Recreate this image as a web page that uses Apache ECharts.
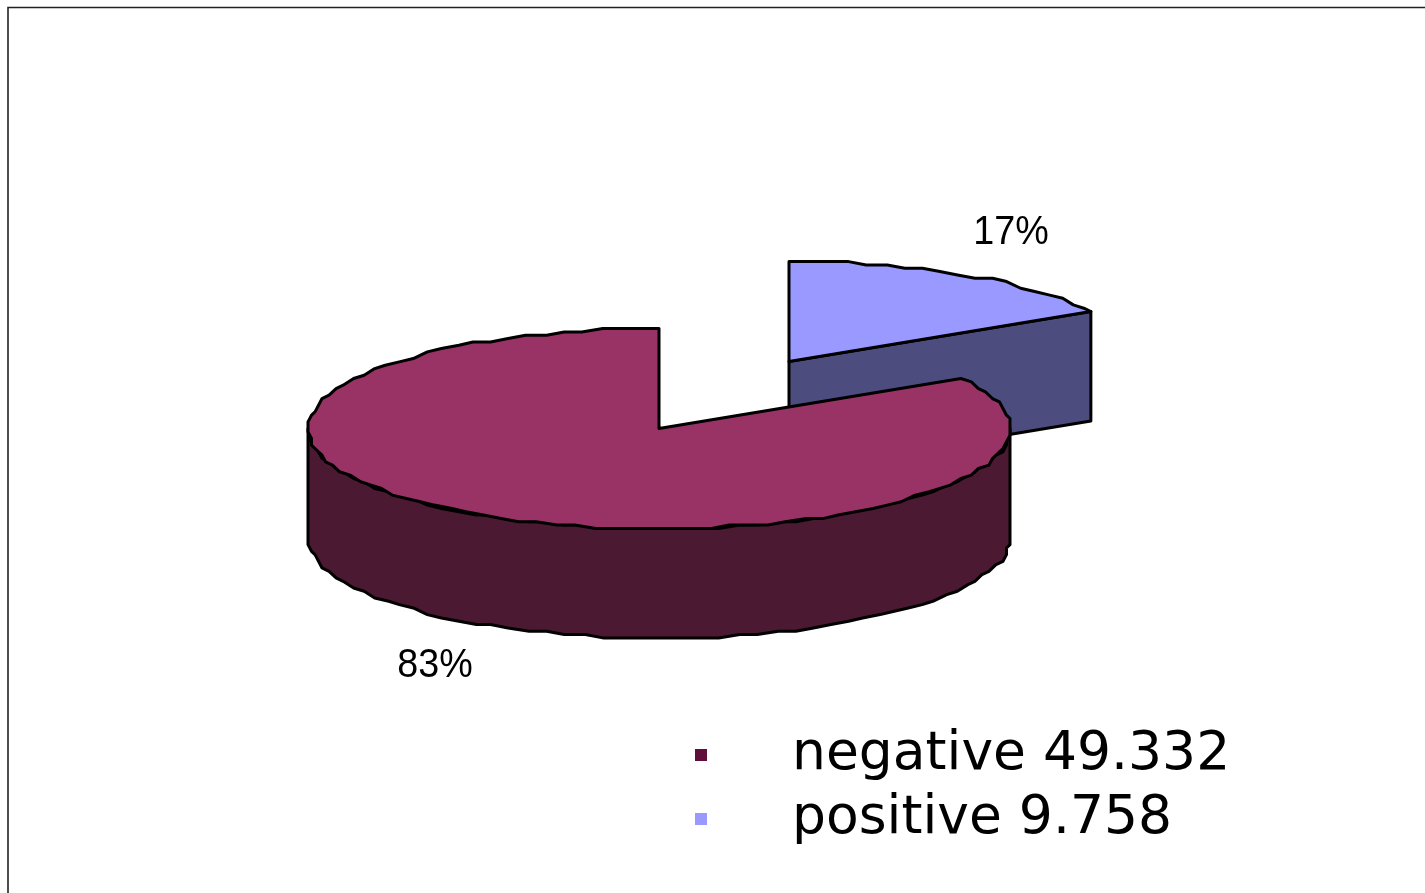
<!DOCTYPE html>
<html><head><meta charset="utf-8">
<style>html,body{margin:0;padding:0;background:#fff}#c{width:1425px;height:893px}</style>
<script src="https://cdn.jsdelivr.net/npm/echarts@6/dist/echarts.min.js"></script>
</head><body><div id="c"></div>
<script>
var categories = ['negative', 'positive'];
var seriesValues = [49332, 9758];
var valueLabels = ['49.332', '9.758'];

var topColors = ['#993366', '#9999FF'];
var sideColors = ['#4C1933', '#4C4C7F'];
var legendColors = ['#5F0F3A', '#9999FF'];
var centers = [[659, 428.5], [789, 361.5]];
var labelPos = [[435, 666], [1011, 233]];
var RX = 351, RY = 100, DEPTH = 109.5, GX = 3.51, GY = 3.33, STEP = 3.2;

var total = seriesValues.reduce(function (a, b) { return a + b; }, 0);
var startFrac = [seriesValues[1] / total, 0];
var chart = echarts.init(document.getElementById('c'), null, {renderer: 'canvas'});

function rimPoint(c, deg, dy) {
  var r = deg * Math.PI / 180;
  var x = RX * Math.sin(r), y = -RY * Math.cos(r);
  return [c[0] + Math.round(x / GX) * GX, c[1] + Math.round(y / GY) * GY + (dy || 0)];
}
function rim(c, a0, a1, dy) {
  var pts = [], a;
  for (a = a0; a < a1; a += STEP) pts.push(rimPoint(c, a, dy));
  pts.push(rimPoint(c, a1, dy));
  return pts;
}
var lineStyle = {stroke: '#000', lineWidth: 3, lineJoin: 'round'};
function poly(points, fill) {
  return {type: 'polygon', shape: {points: points}, style: Object.assign({fill: fill}, lineStyle)};
}
function pieceRenderer(i) {
  return function () {
    var c = centers[i], a0 = startFrac[i] * 360, a1 = a0 + seriesValues[i] / total * 360;
    var children = [];
    if (i === 0) {
      var top = rim(c, 90, 270, 0), bottom = rim(c, 90, 270, DEPTH).reverse();
      children.push(poly(top.concat(bottom), sideColors[i]));
    } else {
      var p = rimPoint(c, a1, 0);
      children.push(poly([c, p, [p[0], p[1] + DEPTH], [c[0], c[1] + DEPTH]], sideColors[i]));
    }
    children.push(poly([c].concat(rim(c, a0, a1, 0)), topColors[i]));
    children.push({
      type: 'text', x: labelPos[i][0], y: labelPos[i][1], scaleX: 0.92, originX: 0,
      style: {text: Math.round(seriesValues[i] / total * 100) + '%', align: 'center', verticalAlign: 'middle',
        fontFamily: '"Liberation Sans"', fontSize: 41, fill: '#000'}
    });
    return {type: 'group', children: children};
  };
}
var names = categories.map(function (n, i) { return n + ' ' + valueLabels[i]; });
chart.setOption({
  animation: false,
  backgroundColor: '#fff',
  legend: {
    orient: 'vertical', left: 695, top: 723, itemWidth: 12, itemHeight: 12, itemGap: 0, padding: 0,
    icon: 'rect', selectedMode: false,
    textStyle: {fontFamily: '"DejaVu Sans"', fontSize: 53.5, color: '#000', lineHeight: 64, padding: [0, 0, 0, 80]},
    data: names.map(function (n, i) { return {name: n, itemStyle: {color: legendColors[i]}}; })
  },
  graphic: [{type: 'polyline', shape: {points: [[8, 893], [8, 7.5], [1425, 7.5]]}, style: {stroke: '#222', lineWidth: 1.6, fill: null}}],
  series: [1, 0].map(function (i) {
    return {type: 'custom', name: names[i], coordinateSystem: 'none', silent: true,
      itemStyle: {color: legendColors[i]}, data: [seriesValues[i]], renderItem: pieceRenderer(i)};
  })
});
</script></body></html>
